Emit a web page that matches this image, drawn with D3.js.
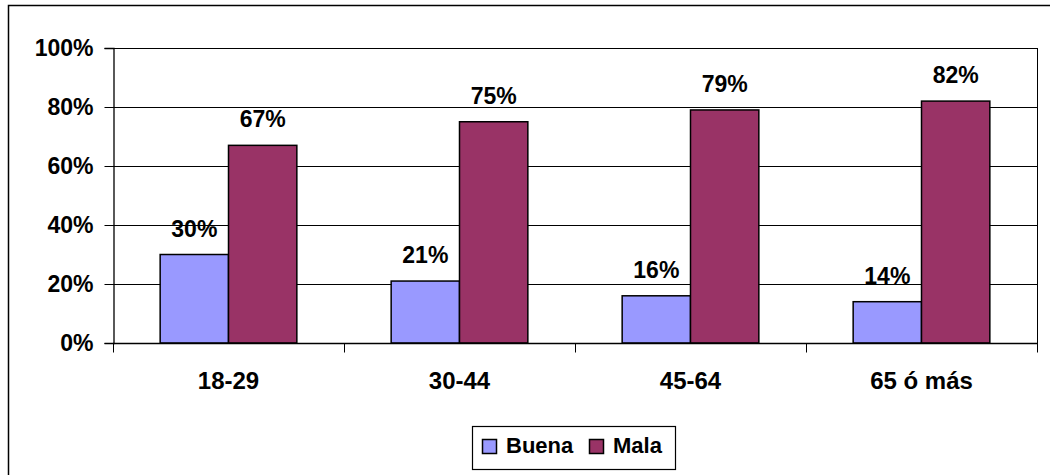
<!DOCTYPE html>
<html>
<head>
<meta charset="utf-8">
<script src="https://cdn.jsdelivr.net/npm/d3@7"></script>
<style>
  body { margin: 0; background: #fff; }
  svg text { font-family: Arial, "Liberation Sans", sans-serif; font-weight: bold; fill: #000; }
</style>
</head>
<body>
<svg id="chart" width="1050" height="475"></svg>
<script>
const categories = ['18-29', '30-44', '45-64', '65 ó más'];
const buena = [30, 21, 16, 14];
const mala = [67, 75, 79, 82];
const seriesNames = ['Buena', 'Mala'];
const seriesColors = ['#9999FF', '#993366'];
const yTicks = [0, 20, 40, 60, 80, 100];

const svg = d3.select('#chart');
const plot = { left: 113, right: 1037, top: 48, bottom: 343 };

// outer chart frame (runs off the right/bottom edges)
svg.append('rect')
  .attr('x', 8.5).attr('y', 5.5)
  .attr('width', 1060).attr('height', 480)
  .attr('fill', 'none').attr('stroke', '#000').attr('stroke-width', 1.5);

const x = d3.scaleBand().domain(categories).range([plot.left, plot.right]);
const inner = d3.scaleBand().domain(seriesNames)
  .range([0, x.bandwidth()]).paddingOuter(0.69).paddingInner(0);
const y = d3.scaleLinear().domain([0, 100]).range([plot.bottom, plot.top]);

// gridlines
svg.append('g')
  .selectAll('line')
  .data(yTicks.filter(d => d > 0))
  .join('line')
  .attr('x1', plot.left).attr('x2', plot.right)
  .attr('y1', d => Math.round(y(d)) + 0.5).attr('y2', d => Math.round(y(d)) + 0.5)
  .attr('stroke', '#000').attr('stroke-width', 1);

// right edge of plot area
svg.append('line')
  .attr('x1', plot.right + 0.5).attr('x2', plot.right + 0.5)
  .attr('y1', plot.top).attr('y2', plot.bottom)
  .attr('stroke', '#000');

// y axis
const yAxis = svg.append('g')
  .attr('transform', `translate(${plot.left + 0.5},0)`)
  .call(d3.axisLeft(y).tickValues(yTicks).tickSize(9).tickPadding(11).tickFormat(d => d + '%'));
yAxis.attr('font-size', null).attr('font-family', null);
yAxis.select('.domain').attr('stroke', '#000').attr('stroke-width', 1.3);
yAxis.selectAll('.tick line').attr('stroke', '#000');
yAxis.selectAll('.tick text').style('font-size', '23px').attr('dy', '0.33em');

// bars
const series = [buena, mala];
const groups = svg.append('g')
  .selectAll('g')
  .data(categories)
  .join('g')
  .attr('transform', d => `translate(${x(d)},0)`);

groups.selectAll('rect')
  .data((d, i) => seriesNames.map((s, j) => ({ s, v: series[j][i], c: seriesColors[j] })))
  .join('rect')
  .attr('x', d => inner(d.s))
  .attr('y', d => y(d.v))
  .attr('width', inner.bandwidth())
  .attr('height', d => y(0) - y(d.v))
  .attr('fill', d => d.c)
  .attr('stroke', '#000').attr('stroke-width', 1.5);

groups.selectAll('text')
  .data((d, i) => seriesNames.map((s, j) => ({ s, v: series[j][i] })))
  .join('text')
  .attr('x', d => inner(d.s) + inner.bandwidth() / 2)
  .attr('y', d => y(d.v) - 18)
  .attr('text-anchor', 'middle')
  .style('font-size', '23px')
  .text(d => d.v + '%');

// x axis
const xAxis = svg.append('g')
  .attr('transform', `translate(0,${plot.bottom + 0.5})`);
xAxis.append('line')
  .attr('x1', plot.left).attr('x2', plot.right + 1)
  .attr('stroke', '#000').attr('stroke-width', 1.5);
xAxis.selectAll('.tk')
  .data(categories.map(c => x(c)).concat([plot.right]))
  .join('line')
  .attr('class', 'tk')
  .attr('x1', d => Math.round(d) + 0.5).attr('x2', d => Math.round(d) + 0.5)
  .attr('y1', 0).attr('y2', 9)
  .attr('stroke', '#000');
xAxis.selectAll('text')
  .data(categories)
  .join('text')
  .attr('x', d => x(d) + x.bandwidth() / 2)
  .attr('y', 45)
  .attr('text-anchor', 'middle')
  .style('font-size', '24px')
  .text(d => d);

// legend
const legend = svg.append('g').attr('transform', 'translate(472,426)');
legend.append('rect')
  .attr('x', 0.5).attr('y', 0.5).attr('width', 203).attr('height', 43)
  .attr('fill', '#fff').attr('stroke', '#000').attr('stroke-width', 1.2);
const legendX = [10, 117];
const items = legend.selectAll('g.item')
  .data(seriesNames)
  .join('g')
  .attr('class', 'item')
  .attr('transform', (d, i) => `translate(${legendX[i]},0)`);
items.append('rect')
  .attr('x', 0.5).attr('y', 13.5).attr('width', 14).attr('height', 14)
  .attr('fill', (d, i) => seriesColors[i])
  .attr('stroke', '#000').attr('stroke-width', 1.5);
items.append('text')
  .attr('x', 24).attr('y', 27)
  .style('font-size', '22px')
  .text(d => d);
</script>
</body>
</html>
